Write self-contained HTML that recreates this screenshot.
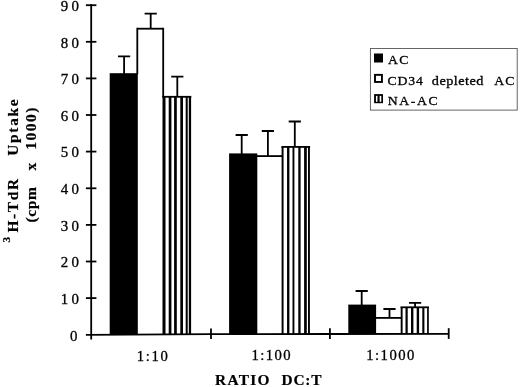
<!DOCTYPE html>
<html><head><meta charset="utf-8"><title>Figure</title>
<style>
html,body{margin:0;padding:0;background:#fff;}
body{width:520px;height:387px;overflow:hidden;}
svg{display:block;}
text{font-family:"Liberation Serif","DejaVu Serif",serif;fill:#000;stroke:#000;font-size:14.2px;}
.t{stroke-width:0.3;}
.b{font-weight:bold;stroke-width:0.2;}
</style></head><body>
<svg width="520" height="387" viewBox="0 0 520 387">
<rect width="520" height="387" fill="#fff"/>
<path d="M124.1 74.0V56.3M118.0 56.3H130.2" stroke="#000" stroke-width="1.8" fill="none"/>
<rect x="109.7" y="73.2" width="28.10" height="261.5" fill="#000"/>
<path d="M150.7 28.6V13.6M144.6 13.6H156.8" stroke="#000" stroke-width="1.8" fill="none"/>
<rect x="137.30" y="27.8" width="26.00" height="1.8" fill="#000"/>
<rect x="136.40" y="27.8" width="1.8" height="46.4" fill="#000"/>
<rect x="162.30" y="27.8" width="1.8" height="69.1" fill="#000"/>
<path d="M177.3 96.7V76.7M171.2 76.7H183.4" stroke="#000" stroke-width="1.8" fill="none"/>
<rect x="162.30" y="95.9" width="29.00" height="1.8" fill="#000"/>
<rect x="162.50" y="96.7" width="3.00" height="237.7" fill="#000"/>
<rect x="168.70" y="96.7" width="2.70" height="237.6" fill="#000"/>
<rect x="174.10" y="96.7" width="2.70" height="237.6" fill="#000"/>
<rect x="180.30" y="96.7" width="2.70" height="237.6" fill="#000"/>
<rect x="185.70" y="96.7" width="2.00" height="237.5" fill="#000"/>
<rect x="188.80" y="96.7" width="2.30" height="237.5" fill="#000"/>
<path d="M241.7 154.2V135.0M235.6 135.0H247.8" stroke="#000" stroke-width="1.8" fill="none"/>
<rect x="229.1" y="153.4" width="28.20" height="180.8" fill="#000"/>
<path d="M267.9 156.0V131.0M261.8 131.0H274.0" stroke="#000" stroke-width="1.8" fill="none"/>
<rect x="256.80" y="155.2" width="25.60" height="1.8" fill="#000"/>
<path d="M294.8 146.9V121.5M288.7 121.5H300.9" stroke="#000" stroke-width="1.8" fill="none"/>
<rect x="281.40" y="146.0" width="28.70" height="1.8" fill="#000"/>
<rect x="281.60" y="146.9" width="1.95" height="187.2" fill="#000"/>
<rect x="287.05" y="146.9" width="2.35" height="187.2" fill="#000"/>
<rect x="292.50" y="146.9" width="1.90" height="187.2" fill="#000"/>
<rect x="298.30" y="146.9" width="2.30" height="187.2" fill="#000"/>
<rect x="304.10" y="146.9" width="2.70" height="187.1" fill="#000"/>
<rect x="308.00" y="146.9" width="1.90" height="187.1" fill="#000"/>
<path d="M361.7 305.4V291.0M355.6 291.0H367.8" stroke="#000" stroke-width="1.8" fill="none"/>
<rect x="348.3" y="304.6" width="27.80" height="29.4" fill="#000"/>
<path d="M389.5 317.9V309.0M383.4 309.0H395.6" stroke="#000" stroke-width="1.8" fill="none"/>
<rect x="375.60" y="317.0" width="25.90" height="1.8" fill="#000"/>
<path d="M415.1 307.2V302.8M409.0 302.8H421.2" stroke="#000" stroke-width="1.8" fill="none"/>
<rect x="400.50" y="306.4" width="28.50" height="1.8" fill="#000"/>
<rect x="400.70" y="307.2" width="1.90" height="26.7" fill="#000"/>
<rect x="405.50" y="307.2" width="2.20" height="26.7" fill="#000"/>
<rect x="411.00" y="307.2" width="2.40" height="26.7" fill="#000"/>
<rect x="416.70" y="307.2" width="2.40" height="26.7" fill="#000"/>
<rect x="422.30" y="307.2" width="2.10" height="26.7" fill="#000"/>
<rect x="427.10" y="307.2" width="1.70" height="26.7" fill="#000"/>
<path d="M91.2 4.3V339.5" stroke="#000" stroke-width="1.8" fill="none"/>
<path d="M85.9 334.79L211 334.15L330 334.00L448.7 333.90" stroke="#000" stroke-width="1.8" fill="none"/>
<path d="M85.9 298.1H96.4" stroke="#000" stroke-width="1.8" fill="none"/>
<path d="M85.9 261.5H96.4" stroke="#000" stroke-width="1.8" fill="none"/>
<path d="M85.9 224.9H96.4" stroke="#000" stroke-width="1.8" fill="none"/>
<path d="M85.9 188.3H96.4" stroke="#000" stroke-width="1.8" fill="none"/>
<path d="M85.9 151.6H96.4" stroke="#000" stroke-width="1.8" fill="none"/>
<path d="M85.9 115.0H96.4" stroke="#000" stroke-width="1.8" fill="none"/>
<path d="M85.9 78.4H96.4" stroke="#000" stroke-width="1.8" fill="none"/>
<path d="M85.9 41.8H96.4" stroke="#000" stroke-width="1.8" fill="none"/>
<path d="M85.9 5.2H96.4" stroke="#000" stroke-width="1.8" fill="none"/>
<path d="M211.0 328.4V339.1" stroke="#000" stroke-width="1.8" fill="none"/>
<path d="M329.9 328.3V339.0" stroke="#000" stroke-width="1.8" fill="none"/>
<path d="M448.7 328.2V338.9" stroke="#000" stroke-width="1.8" fill="none"/>
<rect x="370.4" y="48.5" width="146.8" height="61.6" fill="#fff" stroke="#555" stroke-width="0.9"/>
<rect x="374.0" y="53.5" width="9.0" height="9.0" fill="#000"/>
<rect x="375.0" y="74.85" width="6.95" height="7.1" fill="#fff" stroke="#000" stroke-width="1.9"/>
<rect x="374.1" y="94.1" width="8.9" height="9.1" fill="#000"/>
<rect x="375.95" y="95.9" width="1.5" height="5.9" fill="#fff"/>
<rect x="379.65" y="95.9" width="1.65" height="5.9" fill="#fff"/>
<text transform="translate(387.90 63.80) scale(1.02 1)" class="t" style="font-size:13.5px" letter-spacing="1.27">AC</text>
<text transform="translate(387.52 84.70) scale(1.02 1)" class="t" style="font-size:13.5px" letter-spacing="0.85">CD34</text>
<text transform="translate(431.82 84.70) scale(1.09 1)" class="t" style="font-size:13.1px" letter-spacing="0.42">depleted</text>
<text transform="translate(494.20 84.70) scale(1.02 1)" class="t" style="font-size:13.5px" letter-spacing="1.18">AC</text>
<text transform="translate(387.65 104.50) scale(1.02 1)" class="t" style="font-size:13.5px" letter-spacing="1.56">NA-AC</text>
<text transform="translate(136.68 360.60) scale(1.05 1)" class="t" style="font-size:14.0px" letter-spacing="1.61">1:10</text>
<text transform="translate(251.47 360.30) scale(1.05 1)" class="t" style="font-size:14.0px" letter-spacing="1.36">1:100</text>
<text transform="translate(366.18 360.00) scale(1.05 1)" class="t" style="font-size:14.0px" letter-spacing="1.42">1:1000</text>
<text transform="translate(214.97 384.60) scale(1.04 1)" class="b" style="font-size:14.8px" letter-spacing="1.27">RATIO</text>
<text transform="translate(281.48 384.60) scale(1.04 1)" class="b" style="font-size:14.8px" letter-spacing="0.81">DC:T</text>
<text transform="translate(69.96 340.50) scale(1.05 1)" class="t" letter-spacing="0.00">0</text>
<text transform="translate(60.63 303.79) scale(1.05 1)" class="t" letter-spacing="3.30">10</text>
<text transform="translate(60.63 267.18) scale(1.05 1)" class="t" letter-spacing="3.30">20</text>
<text transform="translate(60.63 230.57) scale(1.05 1)" class="t" letter-spacing="3.30">30</text>
<text transform="translate(60.63 193.96) scale(1.05 1)" class="t" letter-spacing="3.30">40</text>
<text transform="translate(60.63 157.34) scale(1.05 1)" class="t" letter-spacing="3.30">50</text>
<text transform="translate(60.63 120.73) scale(1.05 1)" class="t" letter-spacing="3.30">60</text>
<text transform="translate(60.63 84.12) scale(1.05 1)" class="t" letter-spacing="3.30">70</text>
<text transform="translate(60.63 47.51) scale(1.05 1)" class="t" letter-spacing="3.30">80</text>
<text transform="translate(60.63 10.90) scale(1.05 1)" class="t" letter-spacing="3.30">90</text>
<text transform="translate(9.70 242.55) rotate(-90) scale(1.05 1)" class="b" style="font-size:10.5px" letter-spacing="0.00">3</text>
<text transform="translate(18.00 232.53) rotate(-90) scale(1.0 1)" class="b" style="font-size:15.4px" letter-spacing="1.64">H-TdR</text>
<text transform="translate(18.00 155.75) rotate(-90) scale(1.0 1)" class="b" style="font-size:15.4px" letter-spacing="1.71">Uptake</text>
<text transform="translate(36.20 222.62) rotate(-90) scale(1.05 1)" class="b" style="font-size:14.8px" letter-spacing="0.64">(cpm</text>
<text transform="translate(36.20 170.57) rotate(-90) scale(1.05 1)" class="b" style="font-size:14.8px" letter-spacing="0.00">x</text>
<text transform="translate(36.20 149.72) rotate(-90) scale(1.05 1)" class="b" style="font-size:14.8px" letter-spacing="1.40">1000)</text>
</svg>
</body></html>
